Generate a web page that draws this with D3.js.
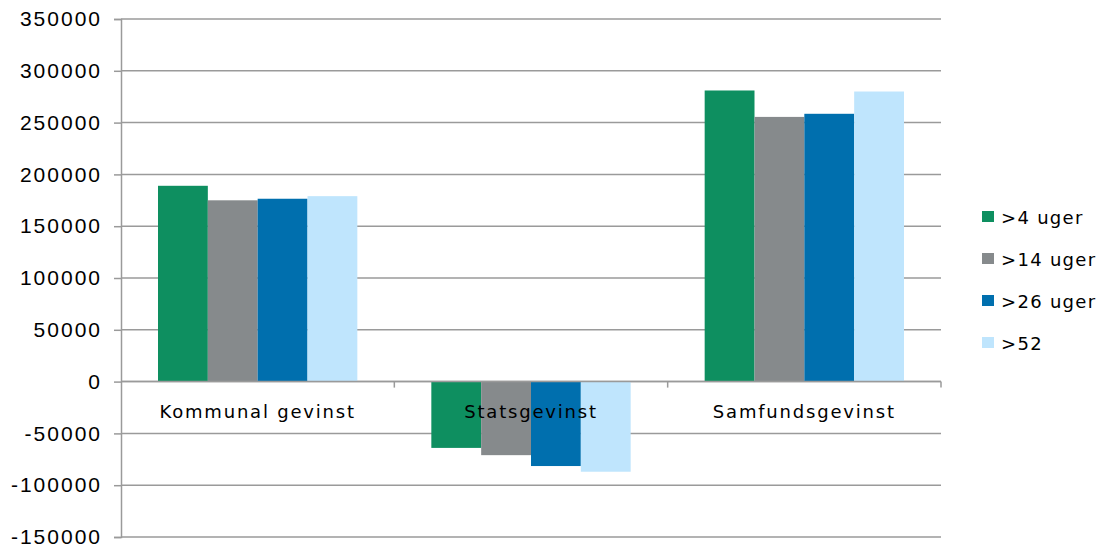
<!DOCTYPE html>
<html>
<head>
<meta charset="utf-8">
<script src="https://cdn.jsdelivr.net/npm/d3@7"></script>
<style>
  body { margin: 0; background: #fff; }
  .tick text { font-family: "Liberation Sans", Arial, sans-serif; font-size: 21px; letter-spacing: 2px; fill: #000; }
  .cat { font-family: "DejaVu Sans", Verdana, sans-serif; font-size: 18px; letter-spacing: 1.8px; fill: #000; }
  .leg { font-family: "DejaVu Sans", Verdana, sans-serif; font-size: 18px; letter-spacing: 1.3px; fill: #000; }
</style>
</head>
<body>
<svg class="chart" width="1107" height="552"></svg>
<script>
var categories = ["Kommunal gevinst", "Statsgevinst", "Samfundsgevinst"];
var seriesNames = [">4 uger", ">14 uger", ">26 uger", ">52"];
var colors = ["#0e8f60", "#868a8c", "#006fae", "#bfe5fd"];
var values4 = [189000, -64000, 281000];
var values14 = [175000, -71000, 255500];
var values26 = [176500, -81500, 258500];
var values52 = [179000, -87000, 280000];
var yTicks = [-150000, -100000, -50000, 0, 50000, 100000, 150000, 200000, 250000, 300000, 350000];

var series = [values4, values14, values26, values52];

var margin = {top: 19, right: 166, bottom: 15, left: 121},
    width = 1107 - margin.left - margin.right,
    height = 552 - margin.top - margin.bottom;

var svg = d3.select(".chart").append("g")
    .attr("transform", "translate(" + margin.left + "," + margin.top + ")");

var x0 = d3.scaleBand().domain(categories).range([0, width]).paddingInner(0).paddingOuter(0);
var x1 = d3.scaleBand().domain(d3.range(series.length)).range([37, x0.bandwidth() - 37]);
var y = d3.scaleLinear().domain([-150000, 350000]).range([height, 0]);

// gridlines
svg.append("g").selectAll("line")
    .data(yTicks).enter().append("line")
    .attr("x1", 0).attr("x2", width)
    .attr("y1", function(d) { return y(d); })
    .attr("y2", function(d) { return y(d); })
    .attr("stroke", "#9a9a9a").attr("stroke-width", 1.5);

// y axis (plain hyphen for negatives, like the original)
var yAxis = svg.append("g")
    .call(d3.axisLeft(y).tickValues(yTicks).tickFormat(function(d) { return String(d); }).tickSize(7).tickPadding(12));
yAxis.select(".domain").attr("stroke", "#9a9a9a").attr("stroke-width", 1.5);
yAxis.selectAll(".tick line").attr("stroke", "#9a9a9a").attr("stroke-width", 1.5);

// bars
var groups = svg.selectAll(".grp")
    .data(categories).enter().append("g")
    .attr("class", "grp")
    .attr("transform", function(d) { return "translate(" + x0(d) + ",0)"; });

groups.selectAll("rect")
    .data(function(d, i) { return series.map(function(s, j) { return {k: j, v: s[i]}; }); })
    .enter().append("rect")
    .attr("x", function(d) { return x1(d.k); })
    .attr("width", x1.bandwidth())
    .attr("y", function(d) { return y(Math.max(0, d.v)); })
    .attr("height", function(d) { return Math.abs(y(d.v) - y(0)); })
    .attr("fill", function(d) { return colors[d.k]; });

// zero axis with ticks between categories
svg.append("line")
    .attr("x1", 0).attr("x2", width)
    .attr("y1", y(0)).attr("y2", y(0))
    .attr("stroke", "#9a9a9a").attr("stroke-width", 1.5);
svg.append("g").selectAll("line")
    .data(categories).enter().append("line")
    .attr("x1", function(d) { return x0(d) + x0.bandwidth(); })
    .attr("x2", function(d) { return x0(d) + x0.bandwidth(); })
    .attr("y1", y(0)).attr("y2", y(0) + 6)
    .attr("stroke", "#9a9a9a").attr("stroke-width", 1.5);

// category labels
svg.append("g").selectAll("text")
    .data(categories).enter().append("text")
    .attr("class", "cat")
    .attr("x", function(d) { return x0(d) + x0.bandwidth() / 2; })
    .attr("y", y(0) + 36)
    .attr("text-anchor", "middle")
    .text(function(d) { return d; });

// legend
var leg = d3.select(".chart").append("g")
    .attr("transform", "translate(982,211)");
var li = leg.selectAll("g").data(seriesNames).enter().append("g")
    .attr("transform", function(d, i) { return "translate(0," + (i * 42) + ")"; });
li.append("rect").attr("width", 12).attr("height", 11)
    .attr("fill", function(d, i) { return colors[i]; });
li.append("text").attr("class", "leg")
    .attr("x", 19).attr("y", 13)
    .text(function(d) { return d; });
</script>
</body>
</html>
